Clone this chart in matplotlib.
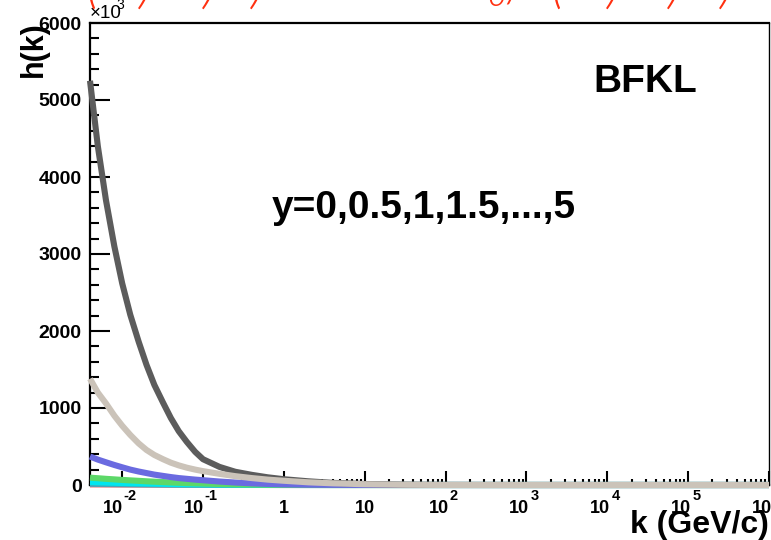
import matplotlib
matplotlib.use("Agg")
import matplotlib.pyplot as plt
import matplotlib.transforms as mtransforms
from matplotlib.ticker import FixedLocator, FixedFormatter, LogLocator, NullFormatter, MultipleLocator

plt.rcParams['font.family'] = ['Liberation Sans', 'DejaVu Sans']

# transverse momentum grid (GeV/c)
k_values = [0.004, 0.005, 0.0063, 0.008, 0.01, 0.0126, 0.016, 0.02, 0.025, 0.032,
            0.04, 0.05, 0.063, 0.08, 0.1, 0.16, 0.25, 0.4, 0.63, 1.0,
            2.0, 4.0, 10.0, 32.0, 100.0, 1e3, 1e4, 1e5, 1e6]

# h(k) in units of 10^3, one list per rapidity
h_y5_0 = [5250, 4400, 3700, 3100, 2620, 2210, 1860, 1560, 1300, 1070,
          870, 700, 560, 430, 335, 235, 172, 132, 100, 75,
          48, 28, 13, 4, 1, 0, 0, 0, 0]
h_y4_5 = [1380, 1200, 1060, 900, 770, 650, 540, 455, 390, 335,
          290, 255, 225, 200, 180, 145, 115, 90, 70, 55,
          35, 22, 10, 3, 0, 0, 0, 0, 0]
h_y4_0 = [370, 330, 295, 260, 230, 200, 175, 155, 135, 118,
          103, 90, 80, 70, 62, 45, 32, 22, 14, 8,
          4, 2, 1, 0, 0, 0, 0, 0, 0]
h_y3_5 = [95, 88, 80, 73, 66, 60, 54, 48, 43, 38,
          33, 29, 25, 22, 19, 13, 9, 6, 4, 2,
          1, 0, 0, 0, 0, 0, 0, 0, 0]
h_y3_0 = [38, 35, 32, 29, 26, 23, 21, 19, 17, 15,
          13, 11, 10, 9, 8, 6, 4, 3, 2, 1,
          0, 0, 0, 0, 0, 0, 0, 0, 0]
h_y2_5 = [15, 14, 13, 12, 11, 10, 9, 8, 7, 6,
          5, 4.5, 4, 3.5, 3, 2, 1.5, 1, 0.5, 0,
          0, 0, 0, 0, 0, 0, 0, 0, 0]
h_y2_0 = [5, 4.5, 4, 3.6, 3.2, 2.9, 2.6, 2.3, 2, 1.8,
          1.5, 1.3, 1.1, 1, 0.8, 0.6, 0.4, 0.3, 0.2, 0,
          0, 0, 0, 0, 0, 0, 0, 0, 0]

# drawing order: low curves first, dark and light grey on top
curves = [
    (h_y2_0, '#e89595'),
    (h_y2_5, '#4aa3b5'),
    (h_y3_0, '#00e6ef'),
    (h_y3_5, '#5cd868'),
    (h_y4_0, '#6a6ae0'),
    (h_y5_0, '#5c5c5c'),
    (h_y4_5, '#cbc3b9'),
]

x_tick_values = [1e-2, 1e-1, 1, 10, 1e2, 1e3, 1e4, 1e5, 1e6]
x_tick_labels = [('10', '-2'), ('10', '-1'), ('1', ''), ('10', ''), ('10', '2'),
                 ('10', '3'), ('10', '4'), ('10', '5'), ('10', '6')]
y_tick_values = [0, 1000, 2000, 3000, 4000, 5000, 6000]
y_tick_labels = ['0', '1000', '2000', '3000', '4000', '5000', '6000']

W, H = 771, 540
fig = plt.figure(figsize=(W / 100, H / 100), dpi=100)
ax = fig.add_axes([90 / W, 55 / H, 679 / W, 462 / H])

for i, (vals, col) in enumerate(curves):
    ax.plot(k_values, vals, color=col, lw=4.4, solid_capstyle='butt',
            clip_on=False, zorder=2 + i)

ax.set_xscale('log')
ax.set_xlim(0.004, 1e6)
ax.set_ylim(0, 6000)

ax.xaxis.set_major_locator(FixedLocator(x_tick_values))
ax.xaxis.set_major_formatter(NullFormatter())
ax.xaxis.set_minor_locator(LogLocator(base=10, subs=[2, 3, 4, 5, 6, 7, 8, 9], numticks=50))
ax.xaxis.set_minor_formatter(NullFormatter())
ax.yaxis.set_major_locator(FixedLocator(y_tick_values))
ax.yaxis.set_major_formatter(FixedFormatter(y_tick_labels))
ax.yaxis.set_minor_locator(MultipleLocator(200))

ax.tick_params(axis='x', which='major', direction='in', length=10, width=1.5, top=False)
ax.tick_params(axis='x', which='minor', direction='in', length=4.5, width=1.5, top=False)
ax.tick_params(axis='y', which='major', direction='in', length=14.5, width=1.5,
               labelsize=14, pad=6, right=False)
ax.tick_params(axis='y', which='minor', direction='in', length=6.5, width=1.5, right=False)
for lab in ax.get_yticklabels():
    lab.set_fontweight('bold')

for side in ['left', 'top', 'bottom']:
    ax.spines[side].set_linewidth(1.6)
ax.spines['right'].set_linewidth(1.0)

# x tick labels: base number with raised exponent, composite centred on the tick
base_fs, exp_fs = 13, 10.5
xtrans = mtransforms.blended_transform_factory(ax.transData, ax.transAxes)

def shifted(dx_px, dy_px):
    return xtrans + mtransforms.ScaledTranslation(dx_px / 100, dy_px / 100, fig.dpi_scale_trans)

for val, (base, expo) in zip(x_tick_values, x_tick_labels):
    if not expo:
        ax.text(val, 0, base, transform=shifted(0, -28), ha='center', va='baseline',
                fontsize=base_fs, fontweight='bold', clip_on=False)
        continue
    wb = len(base) * 0.556 * base_fs * 100 / 72
    we = sum(0.333 if c == '-' else 0.556 for c in expo) * exp_fs * 100 / 72
    right = (wb - we) / 2 - 3
    ax.text(val, 0, base, transform=shifted(right, -28), ha='right', va='baseline',
            fontsize=base_fs, fontweight='bold', clip_on=False)
    ax.text(val, 0, expo, transform=shifted(right + 1, -15), ha='left', va='baseline',
            fontsize=exp_fs, fontweight='bold', clip_on=False)

def fx(px):
    return px / W

def fy(py):
    return 1 - py / H

# axis titles
fig.text(fx(34), fy(21), 'h(k)', rotation=90, ha='center', va='top',
         fontsize=22, fontweight='bold')
fig.text(fx(769), fy(533), 'k (GeV/c)', ha='right', va='baseline',
         fontsize=23, fontweight='bold')
fig.text(fx(90), fy(18), '\u00d710', ha='left', va='baseline', fontsize=13.5)
fig.text(fx(116), fy(9), '3', ha='left', va='baseline', fontsize=10)

# annotations
fig.text(fx(645), fy(92), 'BFKL', ha='center', va='baseline',
         fontsize=28, fontweight='bold')
fig.text(fx(424), fy(218), 'y=0,0.5,1,1.5,...,5', ha='center', va='baseline',
         fontsize=28, fontweight='bold')

# handwritten red note along the top edge (thin pen strokes)
red = '#ff3010'
hand = dict(color=red, fontsize=40, style='italic', va='baseline', ha='center',
            family=['Lato', 'DejaVu Sans'], fontweight=300)
for px, ch in [(92, '('), (146, ')'), (210, ')'), (258, ')'),
               (517, '/'), (557, '('), (614, ')'), (675, ')'), (727, ')')]:
    fig.text(fx(px), fy(2), ch, **hand)
fig.text(fx(487), fy(0), 'k\u2080', **hand)

fig.savefig('out.png', dpi=100)
